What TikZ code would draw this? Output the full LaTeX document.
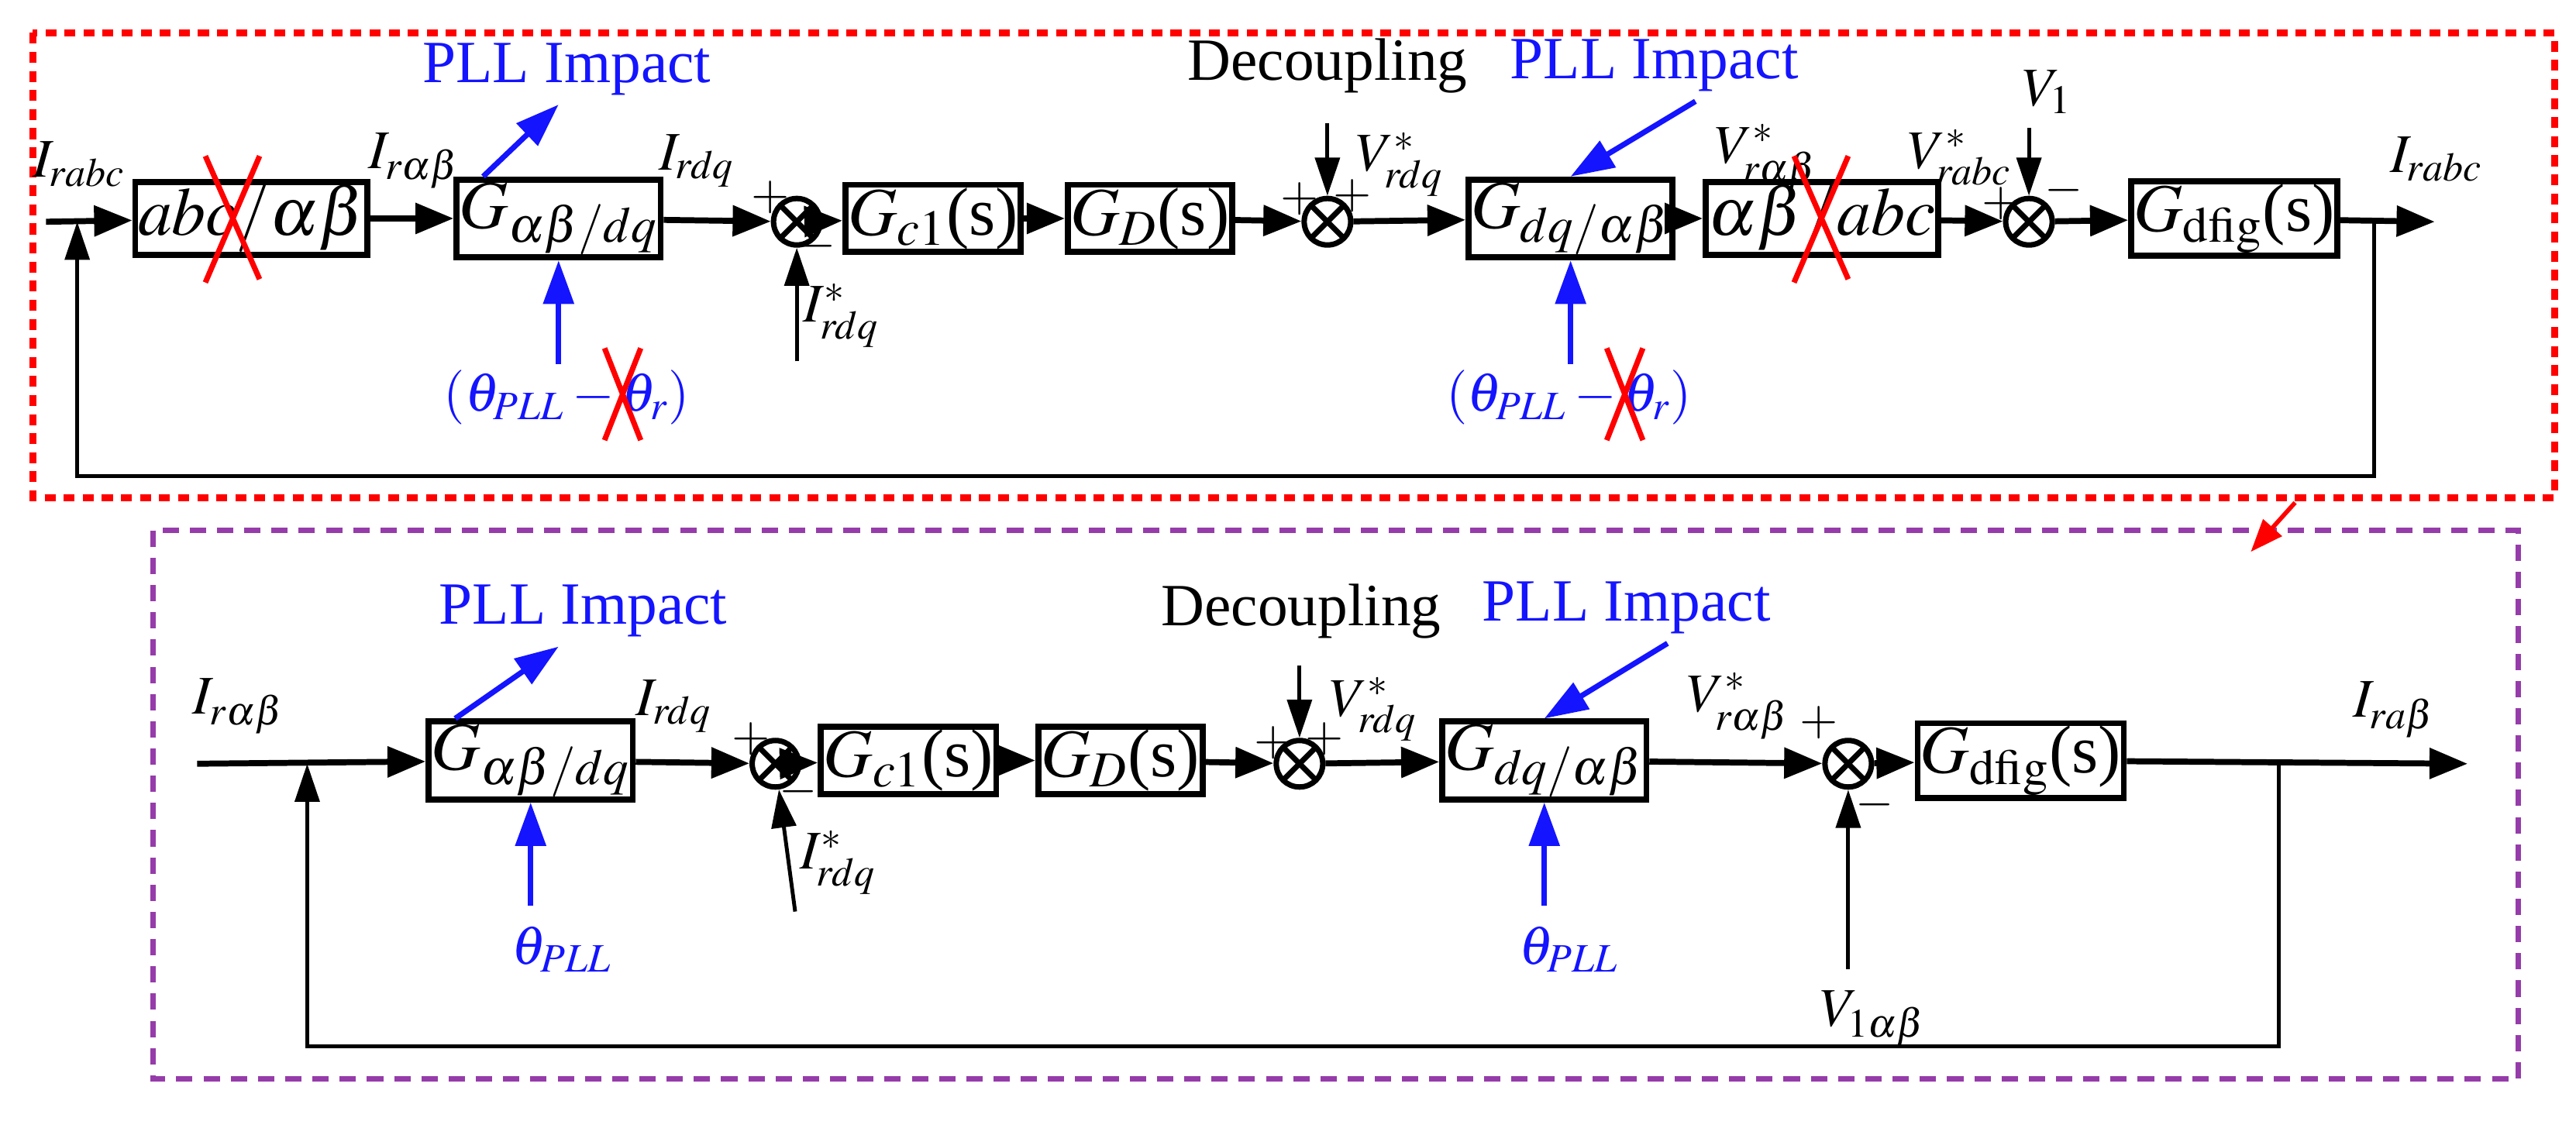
\documentclass[tikz,border=0pt]{standalone}
\usepackage{mathptmx}
\usepackage[no-math]{fontspec}
\setmainfont{Liberation Serif}
\usetikzlibrary{arrows.meta}
\definecolor{pllblue}{RGB}{20,20,255}
\definecolor{boxpurple}{RGB}{150,60,170}
\tikzset{
  blk/.style={draw,line width=2.2pt,minimum width=2.1cm,minimum height=0.85cm,inner sep=1pt,font=\fontsize{25}{28}\selectfont},
  sumj/.style={draw,circle,line width=2pt,minimum size=0.6cm,inner sep=0pt,path picture={\draw[line width=2pt] (path picture bounding box.north west)--(path picture bounding box.south east) (path picture bounding box.south west)--(path picture bounding box.north east);}},
  sig/.style={-{Triangle[length=14pt,width=11pt]},line width=2.2pt},
  thin/.style={-{Triangle[length=14pt,width=9pt]},line width=1.4pt},
  pll/.style={-{Triangle[length=16pt,width=11pt]},line width=2pt,draw=pllblue},
  lbl/.style={font=\fontsize{20}{24}\selectfont,inner sep=1pt},
  pm/.style={font=\fontsize{18}{20}\selectfont,inner sep=0pt},
  txt/.style={font=\fontsize{22}{26}\selectfont},
  cross/.style={draw=red,line width=2pt},
}
\begin{document}
\begin{tikzpicture}[x=0.0212cm,y=-0.0212cm]
\useasboundingbox (0,0) rectangle (1568,695);
% frames
\draw[red,line width=2.5pt,dash pattern=on 4pt off 3pt] (20,20) rectangle (1555,303);
\draw[boxpurple,line width=2pt,dash pattern=on 6pt off 4pt] (93,323) rectangle (1533,657);
\draw[red,-{Triangle[length=12pt,width=9pt]},line width=1.6pt] (1397,306) -- (1370,336);

% ===== top row
\coordinate (inA) at (28,135);
\coordinate (fbA) at (47,135);
\node[blk] (tA) at (153,133) {$abc/\alpha\beta$};
\node[blk] (pA) at (340,133) {$G_{\alpha\beta/dq}$};
\node[sumj] (s1A) at (485,135) {};
\node[blk,minimum width=1.75cm] (cA) at (568,133) {$G_{c1}$(s)};
\node[blk,minimum width=1.75cm] (dA) at (700,133) {$G_{D}$(s)};
\node[sumj] (s2A) at (808,135) {};
\node[blk] (qA) at (956,133) {$G_{dq/\alpha\beta}$};
\node[blk] (iA) at (1109,133) {$\alpha\beta/abc$};
\node[sumj] (s3A) at (1235,135) {};
\node[blk,minimum width=2.35cm] (gA) at (1360,133) {$G_{\mathrm{dfig}}$(s)};
\coordinate (outA) at (1482,135);
\coordinate (brA) at (1445,135);

\draw[sig] (inA) -- (tA);
\draw[sig] (tA) -- (pA);
\draw[sig] (pA) -- (s1A);
\draw[sig] (s1A) -- (cA);
\draw[sig] (cA) -- (dA);
\draw[sig] (dA) -- (s2A);
\draw[sig] (s2A) -- (qA);
\draw[sig] (qA) -- (iA);
\draw[sig] (iA) -- (s3A);
\draw[sig] (s3A) -- (gA);
\draw[sig] (gA) -- (outA);
\draw[thin] (brA) |- (47,290) -- (fbA);
\draw[thin] (485,220) -- (s1A);
\draw[thin] (808,75) -- (s2A);
\draw[thin] (1235,78) -- (s3A);

\node[lbl] at (48,100) {$I_{rabc}$};
\node[lbl] at (252,98) {$I_{r\alpha\beta}$};
\node[lbl] at (424,98) {$I_{rdq}$};
\node[lbl] at (512,192) {$I^{*}_{rdq}$};
\node[lbl] at (852,100) {$V^{*}_{rdq}$};
\node[lbl] at (1075,96) {$V^{*}_{r\alpha\beta}$};
\node[lbl] at (1193,96) {$V^{*}_{rabc}$};
\node[lbl] at (1246,56) {$V_{1}$};
\node[lbl] at (1483,97) {$I_{rabc}$};
\node[pm] at (469,120) {$+$};
\node[pm] at (497,150) {$-$};
\node[pm] at (791,121) {$+$};
\node[pm] at (823,119) {$+$};
\node[pm] at (1218,124) {$+$};
\node[pm] at (1256,116) {$-$};

\node[txt] (decA) at (808,40) {Decoupling};
\node[txt,text=pllblue] (pl1A) at (345,42) {PLL Impact};
\node[txt,text=pllblue] (pl2A) at (1007,40) {PLL Impact};
\draw[pll] ([xshift=18*0.0212cm]pA.north west) -- ([xshift=-5*0.0212cm]pl1A.south);
\draw[pll] ([xshift=25*0.0212cm]pl2A.south) -- (qA.north);
\node[lbl,text=pllblue] (thA) at (345,242) {$(\theta_{PLL}-\theta_{r})$};
\node[lbl,text=pllblue] (th2A) at (955,242) {$(\theta_{PLL}-\theta_{r})$};
\draw[pll] ([yshift=-63*0.0212cm]pA.south) -- (pA.south);
\draw[pll] ([yshift=-63*0.0212cm]qA.south) -- (qA.south);

% crossings
\draw[cross] (125,95) -- (158,170) (158,95) -- (125,172);
\draw[cross] (1092,95) -- (1125,170) (1125,95) -- (1092,172);
\draw[cross] (368,212) -- (390,268) (390,212) -- (368,268);
\draw[cross] (978,212) -- (1000,268) (1000,212) -- (978,268);

% ===== bottom row
\coordinate (inB) at (120,465);
\coordinate (fbB) at (187,465);
\node[blk] (pB) at (323,463) {$G_{\alpha\beta/dq}$};
\node[sumj] (s1B) at (472,465) {};
\node[blk,minimum width=1.75cm] (cB) at (553,463) {$G_{c1}$(s)};
\node[blk,minimum width=1.75cm] (dB) at (682,463) {$G_{D}$(s)};
\node[sumj] (s2B) at (791,465) {};
\node[blk] (qB) at (940,463) {$G_{dq/\alpha\beta}$};
\node[sumj] (s3B) at (1125,465) {};
\node[blk,minimum width=2.35cm] (gB) at (1230,463) {$G_{\mathrm{dfig}}$(s)};
\coordinate (outB) at (1502,465);
\coordinate (brB) at (1387,465);

\draw[sig] (inB) -- (pB);
\draw[sig] (pB) -- (s1B);
\draw[sig] (s1B) -- (cB);
\draw[sig] (cB) -- (dB);
\draw[sig] (dB) -- (s2B);
\draw[sig] (s2B) -- (qB);
\draw[sig] (qB) -- (s3B);
\draw[sig] (s3B) -- (gB);
\draw[sig] (gB) -- (outB);
\draw[thin] (brB) |- (187,637) -- (fbB);
\draw[thin] (484,555) -- (s1B);
\draw[thin] (791,405) -- (s2B);
\draw[thin] (1125,590) -- (s3B);

\node[lbl] at (145,430) {$I_{r\alpha\beta}$};
\node[lbl] at (410,430) {$I_{rdq}$};
\node[lbl] at (510,525) {$I^{*}_{rdq}$};
\node[lbl] at (836,432) {$V^{*}_{rdq}$};
\node[lbl] at (1058,430) {$V^{*}_{r\alpha\beta}$};
\node[lbl] at (1140,620) {$V_{1\mathrm{\alpha\beta}}$};
\node[lbl] at (1457,432) {$I_{ra\beta}$};
\node[pm] at (457,450) {$+$};
\node[pm] at (486,482) {$-$};
\node[pm] at (775,452) {$+$};
\node[pm] at (806,450) {$+$};
\node[pm] at (1107,440) {$+$};
\node[pm] at (1141,490) {$-$};

\node[txt] (decB) at (792,372) {Decoupling};
\node[txt,text=pllblue] (pl1B) at (355,372) {PLL Impact};
\node[txt,text=pllblue] (pl2B) at (990,370) {PLL Impact};
\draw[pll] ([xshift=18*0.0212cm]pB.north west) -- ([xshift=-15*0.0212cm]pl1B.south);
\draw[pll] ([xshift=25*0.0212cm]pl2B.south) -- (qB.north);
\node[lbl,text=pllblue] (thB) at (342,578) {$\theta_{PLL}$};
\node[lbl,text=pllblue] (th2B) at (955,578) {$\theta_{PLL}$};
\draw[pll] ([yshift=-63*0.0212cm]pB.south) -- (pB.south);
\draw[pll] ([yshift=-63*0.0212cm]qB.south) -- (qB.south);
\end{tikzpicture}
\end{document}
